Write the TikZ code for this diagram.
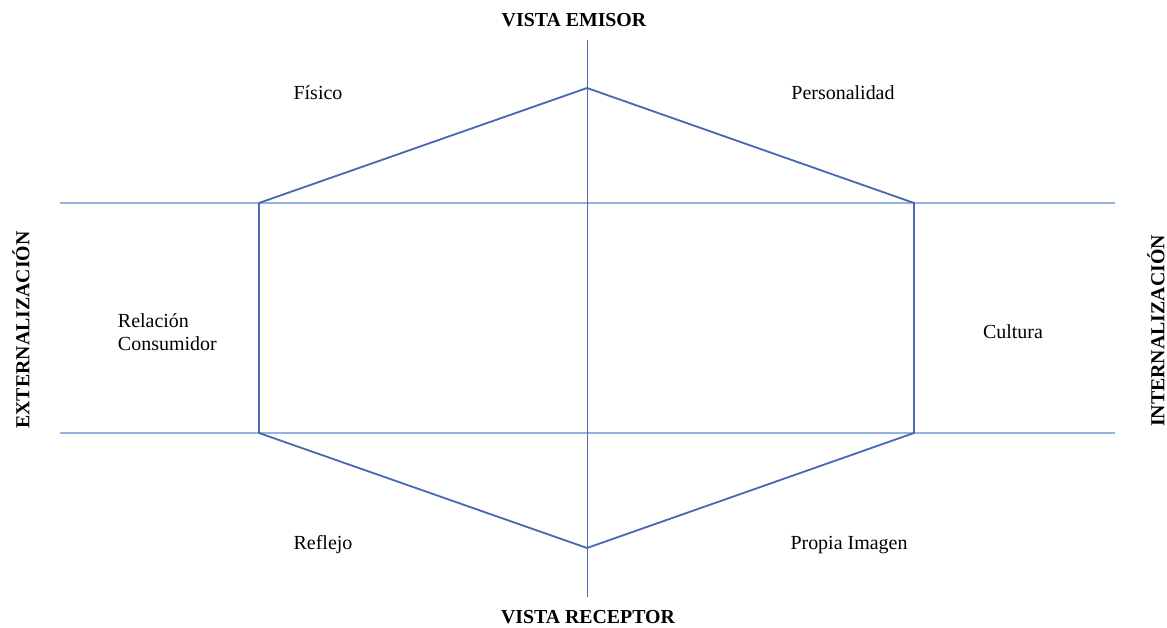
\documentclass[tikz,border=0pt]{standalone}
\usepackage{fontspec}
\setmainfont{Liberation Serif}
\definecolor{hexblue}{RGB}{72,106,178}
\definecolor{lineblue}{RGB}{150,178,225}
\begin{document}
\begin{tikzpicture}[x=0.025cm,y=-0.025cm]

        \useasboundingbox (0,0) rectangle (1167,628);

        % corners of the hexagon and ends of the axes
        \coordinate (t)  at (587,88);
        \coordinate (ur) at (914,203);
        \coordinate (lr) at (914,433);
        \coordinate (b)  at (587,548);
        \coordinate (ll) at (259,433);
        \coordinate (ul) at (259,203);
        \coordinate (h1) at (60,203);
        \coordinate (h2) at (1115,203);
        \coordinate (h3) at (60,433);
        \coordinate (h4) at (1115,433);
        \coordinate (v1) at (587,40);
        \coordinate (v2) at (587,597);

        \begin{scope}[every path/.style={draw=lineblue,line width=0.9pt}]
          \path (h1) -- (h2);
          \path (h3) -- (h4);
        \end{scope}
        \path[draw=hexblue,line width=0.6pt] (v1) -- (v2);
        \path[draw=hexblue,line width=1.3pt,line join=miter]
          (t) -- (ur) -- (lr) -- (b) -- (ll) -- (ul) -- cycle;

        \begin{scope}[every node/.style={font=\bfseries\fontsize{14.1}{16}\selectfont}]
          \node (emisor)   at (574,20)  {VISTA EMISOR};
          \node (receptor) at (588,617) {VISTA RECEPTOR};
          \node[rotate=90] (ext) at (21,330)   {EXTERNALIZACIÓN};
          \node[rotate=90] (int) at (1156,331) {INTERNALIZACIÓN};
        \end{scope}

        \begin{scope}[every node/.style={font=\fontsize{14.2}{16.5}\selectfont,align=left}]
          \node (fisico)   at (318,93)  {Físico};
          \node (person)   at (843,93)  {Personalidad};
          \node[anchor=west] (relacion) at (113,332) {Relación\\Consumidor};
          \node (cultura)  at (1013,332) {Cultura};
          \node (reflejo)  at (323,545) {Reflejo};
          \node (propia)   at (849,545) {Propia Imagen};
        \end{scope}

      \end{tikzpicture}
\end{document}
